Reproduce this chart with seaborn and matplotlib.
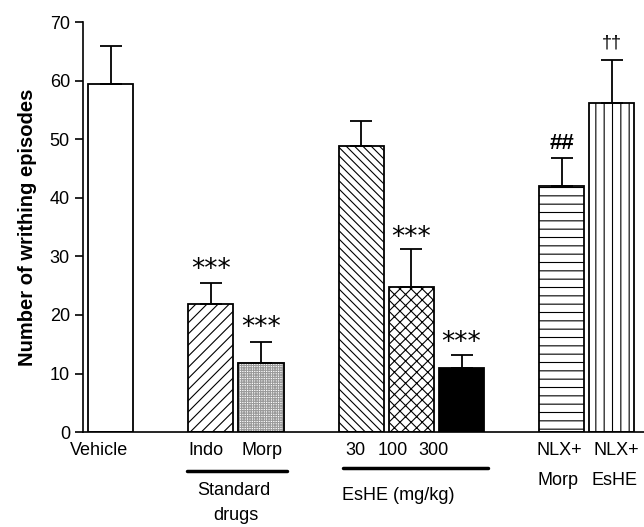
import matplotlib
matplotlib.use("Agg")
import matplotlib.pyplot as plt
import seaborn as sns
import numpy as np

# data
groups = ["Vehicle", "Indo", "Morp", "EsHE 30", "EsHE 100", "EsHE 300", "NLX+Morp", "NLX+EsHE"]
positions = [0, 2, 3, 5, 6, 7, 9, 10]
means = [59.4, 21.9, 11.8, 48.8, 24.8, 10.9, 42.0, 56.2]
sems = [6.5, 3.6, 3.6, 4.4, 6.4, 2.3, 4.8, 7.4]
marks = ["", "***", "***", "", "***", "***", "##", "††"]

hatches = ["", "///", "+++++++", "\\\\\\\\", "xxx", "", "--", "||"]
faces = ["white", "white", "white", "white", "white", "black", "white", "white"]

sns.set_style("ticks")
plt.rcParams["font.family"] = ["Liberation Sans", "DejaVu Sans"]
plt.rcParams["hatch.linewidth"] = 0.8
plt.rcParams["text.color"] = "black"
plt.rcParams["axes.labelcolor"] = "black"
plt.rcParams["axes.edgecolor"] = "black"
plt.rcParams["ytick.color"] = "black"

fig = plt.figure(figsize=(6.44, 5.27), dpi=100)
ax = fig.add_axes([0.129, 0.180, 0.871, 0.778])

sns.barplot(x=positions, y=means, native_scale=True, width=0.9, color="white",
            edgecolor="black", linewidth=1.3, errorbar=None, ax=ax)
for p, h, fc in zip(ax.patches, hatches, faces):
    p.set_hatch(h)
    p.set_facecolor(fc)
# the stippled bar: grey fine grid, black outline on top
ax.patches[2].set_edgecolor("#9a9a9a")
ax.bar(positions[2], means[2], width=0.9, fill=False, edgecolor="black", linewidth=1.3)

ax.errorbar(positions, means, yerr=[np.zeros(len(sems)), sems], fmt="none",
            ecolor="black", elinewidth=1.3, capsize=8, capthick=1.3, zorder=1)

ax.set_xlim(-0.55, 10.64)
ax.set_ylim(0, 70)
ax.set_yticks(range(0, 71, 10))
ax.set_xticks([])
ax.tick_params(axis="y", labelsize=13, length=6, width=1.2, labelcolor="black")
ax.set_ylabel("Number of writhing episodes", fontsize=14.5, fontweight="bold", labelpad=9)
sns.despine(ax=ax)
ax.spines["left"].set_linewidth(1.2)
ax.spines["bottom"].set_linewidth(1.2)

# significance marks
sig_y = {1: 27.7, 2: 17.8, 4: 33.1, 5: 15.2}
for i, y in sig_y.items():
    ax.text(positions[i], y, marks[i], ha="center", va="center", fontsize=19,
            family="DejaVu Sans")
ax.text(positions[6], 49.3, marks[6], ha="center", va="center", fontsize=16, fontweight="bold")
ax.text(positions[7], 66.4, marks[7], ha="center", va="center", fontsize=13)

# labels below the axis
lab = dict(ha="center", va="center", fontsize=13, clip_on=False)
ax.text(-0.23, -3.1, "Vehicle", **lab)
ax.text(1.90, -3.1, "Indo", **lab)
ax.text(3.02, -3.1, "Morp", **lab)
ax.plot([1.53, 3.52], [-6.66, -6.66], color="black", lw=2.5, clip_on=False)
ax.text(2.46, -9.9, "Standard", **lab)
ax.text(2.50, -14.2, "drugs", **lab)

ax.text(4.89, -3.1, "30", **lab)
ax.text(5.63, -3.1, "100", **lab)
ax.text(6.45, -3.1, "300", **lab)
ax.plot([4.64, 7.53], [-6.15, -6.15], color="black", lw=2.5, clip_on=False)
ax.text(4.62, -10.8, "EsHE (mg/kg)", ha="left", va="center", fontsize=13, clip_on=False)

ax.text(8.96, -3.1, "NLX+", **lab)
ax.text(10.08, -3.1, "NLX+", **lab)
ax.text(8.92, -8.2, "Morp", **lab)
ax.text(10.06, -8.2, "EsHE", **lab)

fig.savefig("out.png", dpi=100)
plt.close(fig)
